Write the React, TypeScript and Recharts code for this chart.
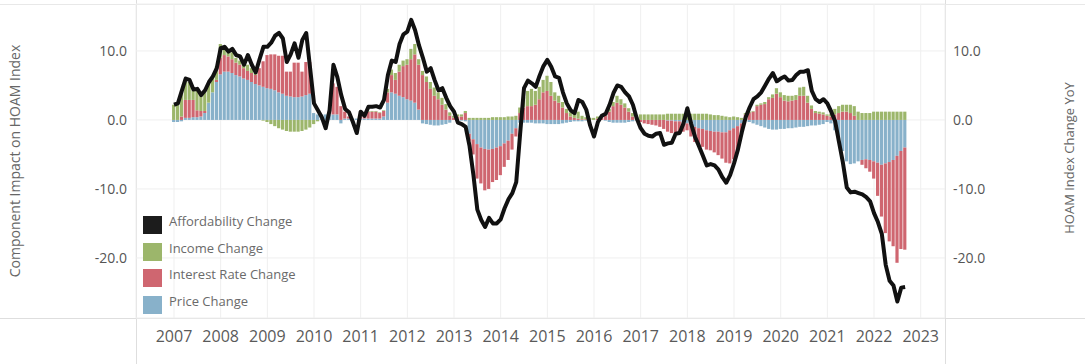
import React from "react";
import { Bar, CartesianGrid, ComposedChart, Line, XAxis, YAxis } from "recharts";

// monthly values, Jan 2007 .. Sep 2022
const affordabilityChange = [
  2.2, 2.4, 4.2, 6.0, 5.8, 4.4, 4.5, 3.6, 4.3, 5.5, 6.3, 7.5, // 2007
  10.4, 10.6, 9.9, 10.3, 9.4, 9.2, 8.0, 9.4, 8.0, 6.9, 8.8, 10.6, // 2008
  10.6, 11.2, 12.2, 12.6, 11.8, 8.4, 9.5, 11.1, 9.0, 11.6, 12.6, 7.5, // 2009
  2.4, 1.4, 0.4, -1.2, 1.4, 8.0, 6.2, 3.6, 1.6, 1.1, -0.3, -1.9, // 2010
  1.2, 0.6, 1.9, 1.9, 2.0, 1.8, 2.9, 6.5, 8.6, 8.4, 11.0, 12.4, // 2011
  12.8, 14.5, 13.0, 10.8, 9.0, 7.0, 7.5, 5.8, 4.3, 4.6, 3.2, 2.0, // 2012
  1.2, -0.4, -0.6, -1.0, -3.8, -8.0, -13.0, -14.5, -15.5, -14.2, -15.0, -15.0, // 2013
  -14.4, -12.8, -11.5, -10.6, -9.0, -2.0, 4.6, 5.7, 5.3, 4.8, 6.4, 7.8, // 2014
  8.7, 7.7, 6.3, 6.1, 4.0, 2.4, 1.4, 1.0, 2.9, 2.6, 1.5, -0.8, // 2015
  -2.4, -0.3, 0.6, 0.9, 2.2, 3.9, 5.0, 4.8, 4.0, 3.4, 2.2, 0.2, // 2016
  -1.2, -2.0, -2.3, -2.4, -2.0, -1.9, -3.6, -3.4, -3.3, -2.0, -1.9, -0.5, // 2017
  1.7, -0.6, -2.5, -3.8, -5.2, -6.6, -6.4, -6.6, -7.2, -8.3, -9.1, -8.0, // 2018
  -6.3, -4.3, -1.8, 0.4, 1.8, 3.0, 3.4, 4.0, 5.0, 6.0, 6.8, 5.6, // 2019
  6.0, 6.3, 5.7, 5.8, 6.5, 7.0, 7.0, 7.2, 4.2, 3.0, 2.6, 3.0, // 2020
  2.4, 1.2, -0.2, -3.2, -6.2, -9.8, -10.5, -10.4, -10.6, -10.8, -11.2, -11.8, // 2021
  -13.5, -14.8, -16.5, -21.0, -23.3, -24.0, -26.3, -24.3, -24.2, // 2022
];

const priceChange = [
  -0.3, -0.3, -0.2, 0.3, 0.3, 0.4, 0.4, 0.5, 1.0, 2.5, 4.0, 5.5,
  6.6, 7.0, 7.0, 6.8, 6.5, 6.3, 6.0, 5.8, 5.5, 5.2, 5.0, 4.8,
  4.6, 4.5, 4.3, 4.0, 3.8, 3.5, 3.4, 3.3, 3.3, 3.4, 3.6, 3.8,
  1.0, 0.8, 0.8, 0.8, 0.8, 0.8, 0.8, -0.5, 0.2, 0.2, 0.2, 0.2,
  0.2, 0.2, 0.2, 0.2, 0.2, 0.2, 0.5, 2.5, 4.0, 3.8, 3.5, 3.3,
  3.0, 2.8, 2.5, 1.5, -0.5, -0.6, -0.7, -0.8, -0.8, -0.7, -0.6, -0.4,
  0, 0, -0.1, -0.2, -2.0, -2.8, -3.5, -4.0, -4.2, -4.3, -4.2, -4.0,
  -3.8, -3.4, -3.0, -2.0, -1.2, -0.4, -0.4, -0.4, -0.4, -0.5, -0.5, -0.5,
  -0.6, -0.6, -0.6, -0.6, -0.5, -0.4, -0.3, -0.2, -0.2, -0.2, -0.1, 0,
  0, 0, 0, -0.1, -0.3, -0.4, -0.4, -0.4, -0.4, -0.3, -0.2, -0.1,
  0, 0, 0, 0, 0, 0, 0, -0.1, -0.1, -0.2, -0.2, -0.3,
  -0.5, -0.8, -1.0, -1.2, -1.3, -1.5, -1.6, -1.7, -1.7, -1.8, -1.8, -1.5,
  -1.2, -0.9, -0.5, 0, -0.3, -0.5, -0.7, -0.9, -1.1, -1.3, -1.4, -1.4,
  -1.3, -1.3, -1.2, -1.2, -1.1, -1.0, -1.0, -0.9, -0.8, -0.8, -0.7, -0.6,
  -0.3, -0.5, -1.5, -2.8, -4.5, -6.0, -6.4, -6.3, -6.0, -5.8, -5.7, -5.8,
  -6.0, -6.2, -6.5, -6.3, -6.1, -5.8, -5.2, -4.5, -4.0,
];

const interestRateChange = [
  0, 0, 0.5, 2.6, 2.6, 2.5, 1.0, 0.8, 0.3, 0, 0, 0.3,
  2.4, 2.4, 2.2, 2.0, 1.8, 1.7, 1.5, 1.3, 1.3, 1.3, 2.5, 3.7,
  4.8, 5.0, 5.2, 5.3, 5.5, 3.5, 3.6, 5.0, 5.0, 3.6, 4.8, 4.6,
  0, 0, 0, 0, 0, 4.5, 4.0, 2.0, 1.0, 0.3, 0, 0,
  0.3, 0.5, 1.0, 1.0, 1.0, 0.8, 0.8, 1.5, 2.5, 2.0, 3.5, 4.5,
  5.0, 6.0, 7.0, 6.5, 6.5, 5.5, 4.5, 3.5, 3.0, 2.2, 1.5, 0.6,
  0.3, 0.5, 0.5, 1.0, -1.0, -2.2, -5.0, -5.2, -6.0, -5.7, -4.8, -4.7,
  -4.2, -3.4, -2.8, -2.3, -1.2, 1.0, 1.8, 2.0, 2.0, 2.2, 3.0, 4.0,
  4.2, 3.5, 2.8, 2.5, 1.8, 1.0, 0.5, 0.3, 0.2, 0.1, 0.1, 0,
  0, 0.2, 0.3, 0.6, 1.2, 2.0, 2.5, 2.2, 1.8, 1.2, 0.5, 0,
  -0.3, -0.5, -0.6, -0.7, -0.8, -1.0, -1.3, -1.6, -1.8, -1.8, -1.6, -1.4,
  -1.0, -1.6, -2.2, -2.5, -2.6, -2.8, -2.8, -3.0, -3.4, -3.8, -4.4, -4.8,
  -4.5, -3.5, -1.5, 0.8, 1.0, 1.2, 2.0, 2.2, 2.3, 3.0, 3.2, 3.8,
  3.3, 2.8, 2.7, 2.8, 2.9, 3.5, 3.5, 2.5, 1.6, 1.0, 0.9, 0.8,
  0.6, 0.5, 0.8, 1.0, 1.2, 1.2, 1.0, 0.6, 0, -0.7, -1.3, -1.7,
  -2.5, -4.8, -7.5, -10.1, -11.5, -12.5, -15.5, -14.2, -14.8,
];

const incomeChange = [
  2.2, 2.4, 3.5, 3.0, 2.6, 1.4, 3.1, 2.3, 3.0, 3.0, 2.3, 2.0,
  2.0, 1.2, 0.8, 1.0, 0.7, 0.6, 0.6, 0.9, 0.7, 0.3, 0, -0.1,
  -0.3, -0.6, -0.9, -1.2, -1.4, -1.6, -1.7, -1.7, -1.7, -1.6, -1.4, -1.1,
  -0.6, -0.2, 0, 0, 0, 0, 0, 0, 0, 0, 0, 0,
  0.1, 0.1, 0.1, 0.1, 0.1, 0.1, 0.1, 0.5, 0.8, 1.0, 1.0, 0.8,
  0.8, 1.5, 1.5, 0.8, 0.6, 0.8, 1.0, 1.2, 1.0, 1.0, 0.8, 0.5,
  0.3, 0.3, 0.3, 0.3, 0.3, 0.3, 0.3, 0.3, 0.3, 0.3, 0.4, 0.4,
  0.4, 0.4, 0.5, 0.5, 0.6, 0.8, 1.5, 2.2, 2.5, 2.0, 1.8, 1.8,
  2.2, 2.0, 1.2, 1.0, 0.8, 0.6, 0.6, 0.8, 1.0, 0.5, 0.3, 0.3,
  0.3, 0.3, 0.3, 0.4, 0.4, 0.6, 1.0, 0.8, 0.6, 0.5, 0.5, 0.6,
  0.8, 0.8, 0.8, 0.8, 0.8, 0.8, 0.8, 0.9, 0.9, 0.9, 0.9, 0.9,
  0.9, 0.9, 0.9, 0.9, 0.9, 0.9, 0.8, 0.7, 0.7, 0.6, 0.5, 0.4,
  0.5, 0.4, 0.3, 0.2, 0.2, 0.1, 0.2, 0.2, 0.3, 0.3, 0.5, 0.8,
  0.7, 0.8, 0.8, 0.7, 0.7, 1.2, 1.3, 1.0, 0.5, 0.3, 0.3, 0.3,
  0.2, 0.4, 0.8, 1.0, 1.0, 1.0, 1.2, 1.4, 1.2, 1.0, 1.0, 1.0,
  1.2, 1.2, 1.2, 1.2, 1.2, 1.2, 1.2, 1.2, 1.2,
];

const yearLabels = [
  "2007", "2008", "2009", "2010", "2011", "2012", "2013", "2014", "2015",
  "2016", "2017", "2018", "2019", "2020", "2021", "2022", "2023",
];
const valueTicks = [-20, -10, 0, 10];

const legendItems = [
  { name: "Affordability Change", color: "#1c1c1c" },
  { name: "Income Change", color: "#9cb66b" },
  { name: "Interest Rate Change", color: "#cf6670" },
  { name: "Price Change", color: "#88b1ca" },
];

const data = affordabilityChange.map((v, i) => ({
  m: i,
  afford: v,
  price: priceChange[i],
  rate: interestRateChange[i],
  income: incomeChange[i],
}));

const monthTicks = yearLabels.map((_, i) => i * 12);
const font = "'Open Sans', sans-serif";
const rule = "#dedede";

export default function App() {
  return (
    <div
      style={{
        position: "absolute",
        left: 0,
        top: 0,
        width: 1085,
        height: 364,
        background: "#fff",
        fontFamily: font,
        overflow: "hidden",
      }}
    >
      {/* frame lines */}
      <div style={{ position: "absolute", left: 0, top: 4, width: 1085, height: 1, background: "#e8e8e8" }} />
      <div style={{ position: "absolute", left: 0, top: 318, width: 1085, height: 1, background: rule }} />
      <div style={{ position: "absolute", left: 136, top: 0, width: 1, height: 364, background: rule }} />
      <div style={{ position: "absolute", left: 945, top: 0, width: 1, height: 364, background: rule }} />

      <ComposedChart
        data={data}
        width={1085}
        height={364}
        margin={{ top: 4, right: 0, bottom: 0, left: 0 }}
        stackOffset="sign"
        style={{ position: "absolute", left: 0, top: 0 }}
      >
        <CartesianGrid xAxisId="x" yAxisId="left" stroke="#efefef" />
        <XAxis
          xAxisId="x"
          dataKey="m"
          type="number"
          domain={[-9.77, 198.25]}
          allowDataOverflow
          ticks={monthTicks}
          tickFormatter={(m: number) => yearLabels[Math.round(m / 12)]}
          axisLine={false}
          tickLine={false}
          tickSize={0}
          tickMargin={13}
          height={46}
          tick={{ fill: "#5a5a5a", fontSize: 16, fontFamily: font }}
        />
        <YAxis
          yAxisId="left"
          domain={[-28.7, 16.8]}
          allowDataOverflow
          ticks={valueTicks}
          tickFormatter={(v: number) => v.toFixed(1)}
          axisLine={false}
          tickLine={false}
          tickSize={0}
          tickMargin={9}
          width={136}
          tick={{ fill: "#555", fontSize: 14, fontFamily: font }}
        />
        <YAxis
          yAxisId="right"
          orientation="right"
          domain={[-28.7, 16.8]}
          allowDataOverflow
          ticks={valueTicks}
          tickFormatter={(v: number) => v.toFixed(1)}
          axisLine={false}
          tickLine={false}
          tickSize={0}
          tickMargin={8}
          width={140}
          tick={{ fill: "#555", fontSize: 14, fontFamily: font }}
        />
        <Bar xAxisId="x" yAxisId="left" dataKey="price" stackId="c" fill="#88b1ca" barSize={3.2} isAnimationActive={false} />
        <Bar xAxisId="x" yAxisId="left" dataKey="rate" stackId="c" fill="#cf6670" barSize={3.2} isAnimationActive={false} />
        <Bar xAxisId="x" yAxisId="left" dataKey="income" stackId="c" fill="#9cb66b" barSize={3.2} isAnimationActive={false} />
        <Line
          xAxisId="x"
          yAxisId="right"
          dataKey="afford"
          type="linear"
          stroke="#111"
          strokeWidth={4}
          strokeLinejoin="round"
          dot={false}
          activeDot={false}
          isAnimationActive={false}
        />
      </ComposedChart>

      {/* axis titles */}
      <div
        style={{
          position: "absolute",
          left: 14,
          top: 161,
          transform: "translate(-50%, -50%) rotate(-90deg)",
          whiteSpace: "nowrap",
          fontSize: 14,
          color: "#666",
        }}
      >
        Component Impact on HOAM Index
      </div>
      <div
        style={{
          position: "absolute",
          left: 1069,
          top: 158,
          transform: "translate(-50%, -50%) rotate(-90deg)",
          whiteSpace: "nowrap",
          fontSize: 13,
          color: "#666",
        }}
      >
        HOAM Index Change YoY
      </div>

      {/* legend */}
      <div style={{ position: "absolute", left: 143, top: 212 }}>
        {legendItems.map((item) => (
          <div key={item.name} style={{ display: "flex", alignItems: "center", height: 26.5 }}>
            <div style={{ width: 19, height: 18, background: item.color, marginRight: 7 }} />
            <span style={{ fontSize: 13, color: "#6a6a6a", marginTop: -8 }}>{item.name}</span>
          </div>
        ))}
      </div>
    </div>
  );
}
